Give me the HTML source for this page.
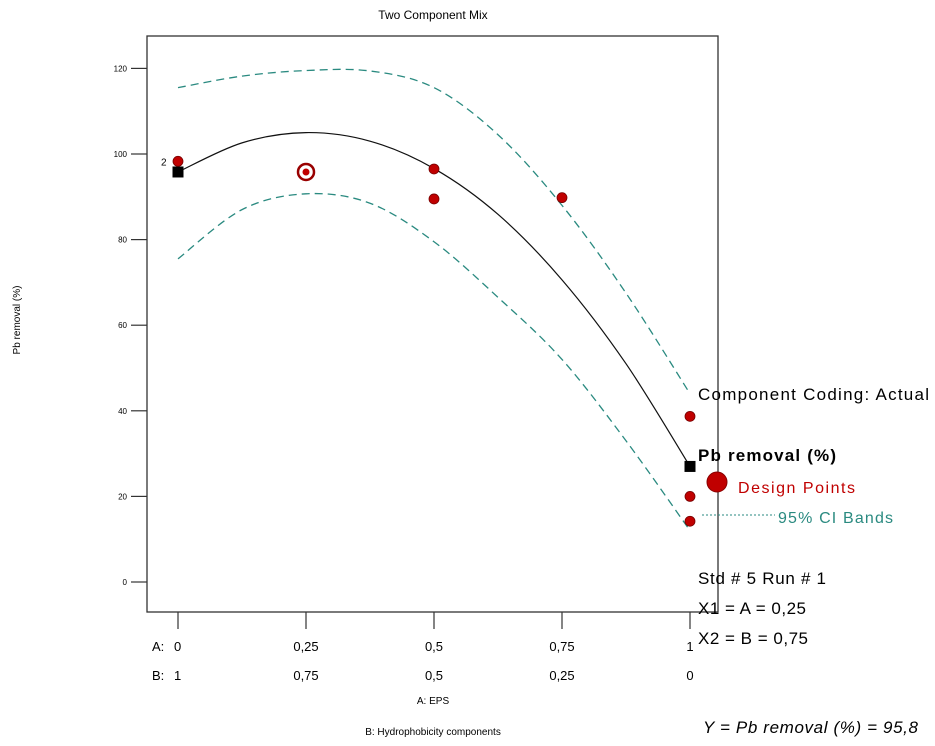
<!DOCTYPE html>
<html><head><meta charset="utf-8"><style>
body{margin:0;background:#fff;}
svg{display:block;font-family:"Liberation Sans",sans-serif;}
</style></head><body>
<svg id="chart" width="935" height="746" viewBox="0 0 935 746">
<text x="433" y="19" font-size="12" text-anchor="middle">Two Component Mix</text>
<rect x="147" y="36" width="571" height="576" fill="none" stroke="#333" stroke-width="1.3"/>
<text transform="translate(20,320) rotate(-90)" font-size="10" text-anchor="middle">Pb removal (%)</text>
<g id="yaxis"></g>
<g id="xaxis"></g>
<text x="433" y="704" font-size="10" text-anchor="middle">A: EPS</text>
<text x="433" y="735" font-size="10" text-anchor="middle">B: Hydrophobicity components</text>
<g id="marks"></g>
<text x="698" y="400" font-size="17" textLength="231">Component Coding: Actual</text>
<text x="698" y="461" font-size="17" font-weight="bold" textLength="138">Pb removal (%)</text>
<circle cx="717" cy="482" r="10" fill="#c00000" stroke="#800"/>
<text x="738" y="493" font-size="16" fill="#c00000" textLength="117">Design Points</text>
<line x1="702" y1="515" x2="775" y2="515" stroke="#2a8a80" stroke-dasharray="2,2"/>
<text x="778" y="523" font-size="16" fill="#2a8a80" textLength="115">95% CI Bands</text>
<text x="698" y="584" font-size="17" textLength="128">Std # 5 Run # 1</text>
<text x="698" y="614" font-size="17" textLength="108">X1 = A = 0,25</text>
<text x="698" y="644" font-size="17" textLength="110">X2 = B = 0,75</text>
<text x="703" y="733" font-size="17" font-style="italic" textLength="215">Y = Pb removal (%) = 95,8</text>
</svg>
<script>
const yTicks=[0,20,40,60,80,100,120];
const xTicks=[0,0.25,0.5,0.75,1];
const aLabels=["0","0,25","0,5","0,75","1"];
const bLabels=["1","0,75","0,5","0,25","0"];
const curveX=[0,0.125,0.25,0.375,0.5,0.625,0.75,0.875,1];
const fitY=[95.8,102.6,105.0,103.0,96.6,85.9,70.6,51.0,27.0];
const upperY=[115.5,118.2,119.5,119.4,115.5,104.5,88.0,67.5,44.0];
const lowerY=[75.5,87.0,90.7,88.5,79.5,66.5,52.0,33.0,12.0];
const pointX=[0,0.5,0.5,0.75,1,1,1];
const pointY=[98.3,96.5,89.5,89.8,38.7,20.0,14.2];
const targetX=[0.25];const targetY=[95.8];
const predX=[0,1];const predY=[95.8,27.0];
const NS="http://www.w3.org/2000/svg";
const xs=v=>178+v*512;
const ys=v=>582-v*4.28;
function mk(t,a,p){const e=document.createElementNS(NS,t);for(const k in a)e.setAttribute(k,a[k]);(p||document.getElementById('marks')).appendChild(e);return e;}
const ya=document.getElementById('yaxis');
yTicks.forEach(v=>{
 const l=mk('line',{x1:131,x2:147,y1:ys(v),y2:ys(v),stroke:'#333','stroke-width':1.2},ya);
 
 
 const t=mk('text',{x:127,y:ys(v)+3,'font-size':8,'text-anchor':'end'},ya);t.textContent=v;
 
 
});
const xa=document.getElementById('xaxis');
xTicks.forEach((v,i)=>{
 const l=mk('line',{x1:xs(v),x2:xs(v),y1:612,y2:629,stroke:'#333','stroke-width':1.2},xa);
 
 
 const a=mk('text',{x:xs(v),y:651,'font-size':13,'text-anchor':i==0?'start':'middle'},xa);a.textContent=aLabels[i];
 if(i==0)a.setAttribute('x',xs(v)-4);
 
 
 const b=mk('text',{x:i==0?xs(v)-4:xs(v),y:680,'font-size':13,'text-anchor':i==0?'start':'middle'},xa);b.textContent=bLabels[i];
 
 
});
[["A:",651],["B:",680]].forEach(([s,y])=>{const t=mk('text',{x:152,y:y,'font-size':13},xa);t.textContent=s;
 
 });
function path(X,Y){const P=X.map((x,i)=>[xs(x),ys(Y[i])]);let d='M'+P[0];for(let i=0;i<P.length-1;i++){const p0=P[i-1]||P[i],p1=P[i],p2=P[i+1],p3=P[i+2]||p2;
 d+=' C'+(p1[0]+(p2[0]-p0[0])/6)+','+(p1[1]+(p2[1]-p0[1])/6)+' '+(p2[0]-(p3[0]-p1[0])/6)+','+(p2[1]-(p3[1]-p1[1])/6)+' '+p2;}return d;}
const u=mk('path',{d:path(curveX,upperY),fill:'none',stroke:'#2a8a80','stroke-width':1.3,'stroke-dasharray':'8,5'});


const lo=mk('path',{d:path(curveX,lowerY),fill:'none',stroke:'#2a8a80','stroke-width':1.3,'stroke-dasharray':'8,5'});


const f=mk('path',{d:path(curveX,fitY),fill:'none',stroke:'#111','stroke-width':1.2});


predX.forEach((x,i)=>{const r=mk('rect',{x:xs(x)-5.5,y:ys(predY[i])-5.5,width:11,height:11,fill:'#000'});
 
 });
pointX.forEach((x,i)=>{const c=mk('circle',{cx:xs(x),cy:ys(pointY[i]),r:5,fill:'#c00000',stroke:'#700','stroke-width':0.8});
 
 });
targetX.forEach((x,i)=>{
 const o=mk('circle',{cx:xs(x),cy:ys(targetY[i]),r:8,fill:'#fff',stroke:'#900','stroke-width':2.5});
 
 
 const c=mk('circle',{cx:xs(x),cy:ys(targetY[i]),r:3.5,fill:'#c00000'});
 
 });
const lab=mk('text',{x:xs(0)-17,y:ys(pointY[0])+4,'font-size':10});lab.textContent='2';


</script>
</body></html>
